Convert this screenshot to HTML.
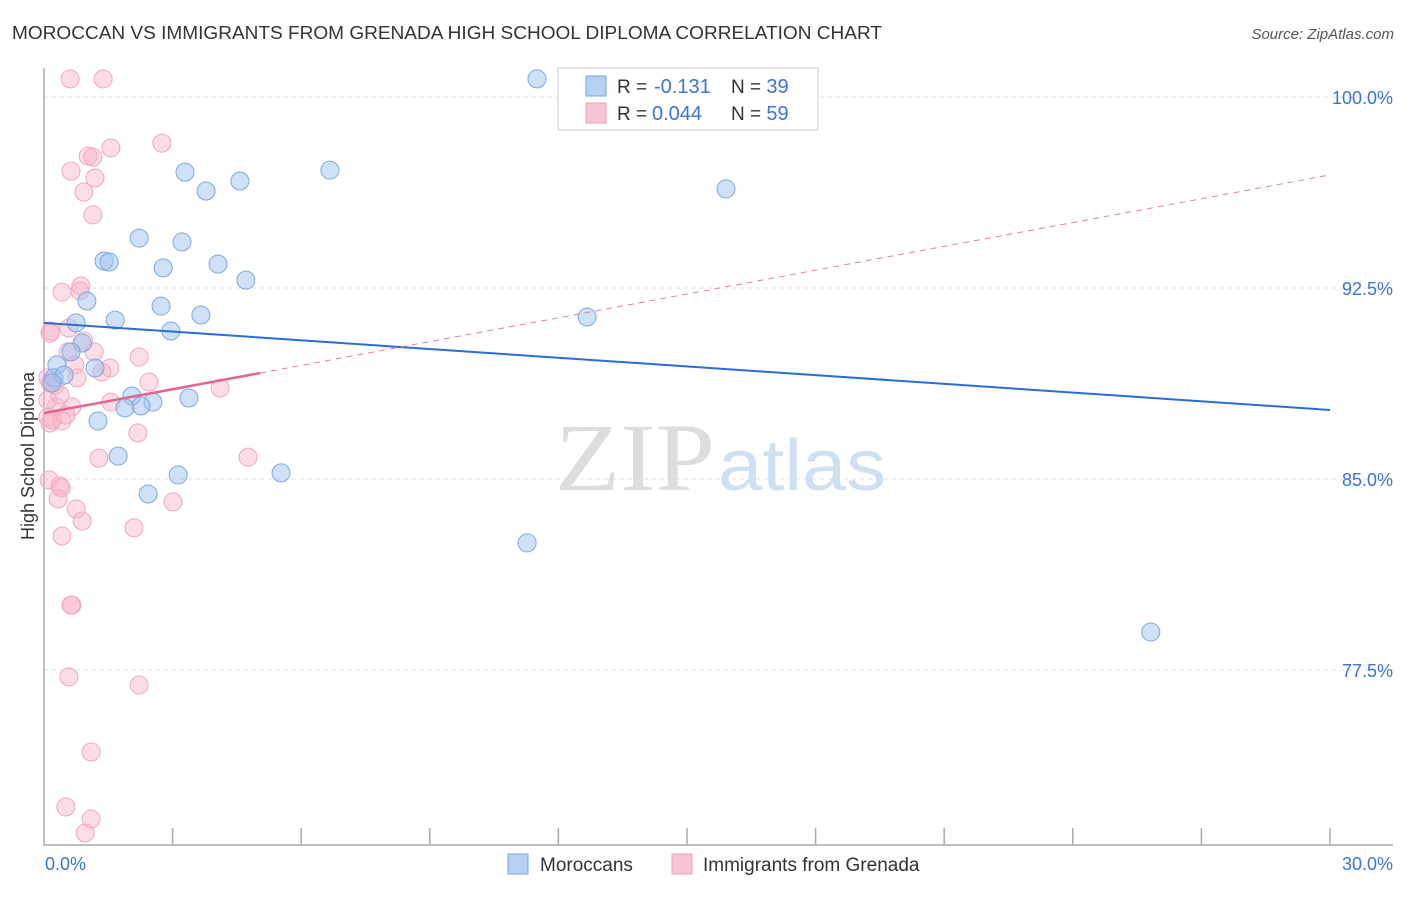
<!DOCTYPE html>
<html><head><meta charset="utf-8"><style>
body{margin:0;background:#fff;font-family:"Liberation Sans",sans-serif;}
</style></head><body>
<svg width="1406" height="892" xmlns="http://www.w3.org/2000/svg" id="chart">
<text x="12" y="39" font-size="18" fill="#333" textLength="870" lengthAdjust="spacingAndGlyphs">MOROCCAN VS IMMIGRANTS FROM GRENADA HIGH SCHOOL DIPLOMA CORRELATION CHART</text>
<text x="1394" y="39" font-size="15" fill="#555" font-style="italic" text-anchor="end">Source: ZipAtlas.com</text>
<text x="34" y="456" font-size="18" fill="#333" transform="rotate(-90 34 456)" text-anchor="middle">High School Diploma</text>
<g id="grid"></g>
<text x="555" y="490" font-size="96" fill="#ddd" font-family="Liberation Serif" textLength="160" lengthAdjust="spacingAndGlyphs">ZIP</text>
<text x="718" y="490" font-size="72" fill="#cfe0f5" textLength="168" lengthAdjust="spacingAndGlyphs">atlas</text>
<g id="marks"></g>
<g>
<rect x="558" y="68" width="260" height="62" fill="#fff" stroke="#ccc"/>
<rect x="586" y="76" width="20" height="20" fill="#b5d0f3" stroke="#7aa5e2"/>
<rect x="586" y="103" width="20" height="20" fill="#f8c3d3" stroke="#eea0b8"/>
<text x="617" y="93" font-size="19" fill="#333">R = </text>
<text x="654" y="93" font-size="20" fill="#3b73d6">-0.131</text>
<text x="731" y="93" font-size="19" fill="#333">N = <tspan fill="#3b73d6" font-size="20">39</tspan></text>
<text x="617" y="120" font-size="19" fill="#333">R = </text>
<text x="652" y="120" font-size="20" fill="#3b73d6">0.044</text>
<text x="731" y="120" font-size="19" fill="#333">N = <tspan fill="#3b73d6" font-size="20">59</tspan></text>
</g>
<rect x="508" y="854" width="20" height="20" fill="#b5d0f3" stroke="#7aa5e2"/>
<text x="540" y="871" font-size="19" fill="#333">Moroccans</text>
<rect x="672" y="854" width="20" height="20" fill="#f8c3d3" stroke="#eea0b8"/>
<text x="703" y="871" font-size="19" fill="#333">Immigrants from Grenada</text>
</svg>
<script>
const yTicks=[100,92.5,85,77.5];
const yTickLabels=["100.0%","92.5%","85.0%","77.5%"];
const xTickLabels=["0.0%","30.0%"];
const blueX=[11.50,6.67,3.29,4.57,3.78,15.91,2.22,3.22,1.40,1.52,2.78,4.06,4.71,1.00,2.73,3.66,1.66,0.75,2.96,12.67,0.89,0.63,1.19,0.30,0.23,0.47,0.19,2.05,3.38,2.54,2.26,1.89,1.26,1.73,3.13,5.53,2.43,11.27,25.82];
const blueY=[100.71,97.13,97.05,96.70,96.31,96.39,94.46,94.31,93.56,93.52,93.29,93.44,92.81,91.99,91.79,91.44,91.24,91.13,90.81,91.36,90.34,89.99,89.36,89.48,88.97,89.08,88.77,88.26,88.18,88.02,87.87,87.79,87.28,85.90,85.16,85.24,84.41,82.49,78.99];
const pinkX=[0.61,1.38,2.75,1.56,1.03,1.14,0.63,1.19,0.93,1.14,0.86,0.42,0.84,0.58,0.16,0.14,0.93,1.17,0.56,2.22,0.72,1.35,0.09,0.77,2.45,4.11,0.14,1.56,0.65,0.28,0.09,0.42,0.51,0.14,2.19,4.76,1.28,0.12,0.37,0.40,0.33,0.75,0.89,3.01,2.10,0.42,0.65,0.63,0.58,2.22,1.10,0.51,1.10,0.96,0.09,0.26,1.54,0.37,0.19];
const pinkY=[100.71,100.71,98.19,98.00,97.68,97.64,97.09,96.82,96.27,95.37,92.58,92.34,92.38,90.93,90.81,90.73,90.42,89.99,89.99,89.79,89.48,89.20,88.97,88.97,88.81,88.57,88.77,88.02,87.83,87.83,87.43,87.28,87.51,87.20,86.81,85.86,85.82,84.96,84.73,84.65,84.22,83.82,83.35,84.10,83.08,82.76,80.05,80.05,77.23,76.91,74.28,72.12,71.65,71.10,88.10,88.69,89.36,88.30,87.32];
const blueTrend=[91.13,87.71];
const pinkTrend=[87.59,96.94];
const pinkSolidEnd=5.04;
const NS="http://www.w3.org/2000/svg";
const xS=v=>44+v/30*1286;
const yS=v=>97+(100-v)*25.467;
function mk(tag,attrs,parent){const e=document.createElementNS(NS,tag);for(const k in attrs)e.setAttribute(k,attrs[k]);parent.appendChild(e);return e;}
const grid=document.getElementById('grid');
const marks=document.getElementById('marks');
yTicks.forEach((t,i)=>{
 const l=mk('line',{x1:44,x2:1393,y1:yS(t),y2:yS(t),stroke:'#ddd','stroke-dasharray':'4,4'},grid);
 
 
 const tx=mk('text',{x:1393,y:yS(t)+7,'font-size':18,fill:'#3b73d6','text-anchor':'end'},grid);
 tx.textContent=yTickLabels[i];
 
 
});
const ax=mk('path',{d:'M44 68V845H1393',fill:'none',stroke:'#aaa','stroke-width':1.5},grid);


for(let i=1;i<=10;i++){
 const tk=mk('line',{x1:xS(i*3),x2:xS(i*3),y1:828,y2:845,stroke:'#aaa','stroke-width':1.5},grid);
 
 
}
[[0,'start',45],[30,'end',1393]].forEach((a,i)=>{
 const tx=mk('text',{x:a[2],y:870,'font-size':18,fill:'#3b73d6','text-anchor':a[1]},grid);
 tx.textContent=xTickLabels[i];
 
 
});
pinkX.forEach((x,i)=>{
 const c=mk('circle',{cx:xS(x),cy:yS(pinkY[i]),r:9,fill:'rgba(248,180,200,0.45)',stroke:'#f0a8c0','stroke-width':1},marks);
 
 
});
blueX.forEach((x,i)=>{
 const c=mk('circle',{cx:xS(x),cy:yS(blueY[i]),r:9,fill:'rgba(160,196,240,0.5)',stroke:'#7ea6e4','stroke-width':1},marks);
 
 
});
const pAt=x=>pinkTrend[0]+(pinkTrend[1]-pinkTrend[0])*x/30;
const bt=mk('line',{x1:xS(0),y1:yS(blueTrend[0]),x2:xS(30),y2:yS(blueTrend[1]),stroke:'#2a6dd6','stroke-width':2},marks);


const pd=mk('line',{x1:xS(pinkSolidEnd),y1:yS(pAt(pinkSolidEnd)),x2:xS(30),y2:yS(pinkTrend[1]),stroke:'#e87ca0','stroke-width':1,'stroke-dasharray':'6,5'},marks);


const ps=mk('line',{x1:xS(0),y1:yS(pinkTrend[0]),x2:xS(pinkSolidEnd),y2:yS(pAt(pinkSolidEnd)),stroke:'#e3628f','stroke-width':2.5},marks);


</script>
</body></html>
